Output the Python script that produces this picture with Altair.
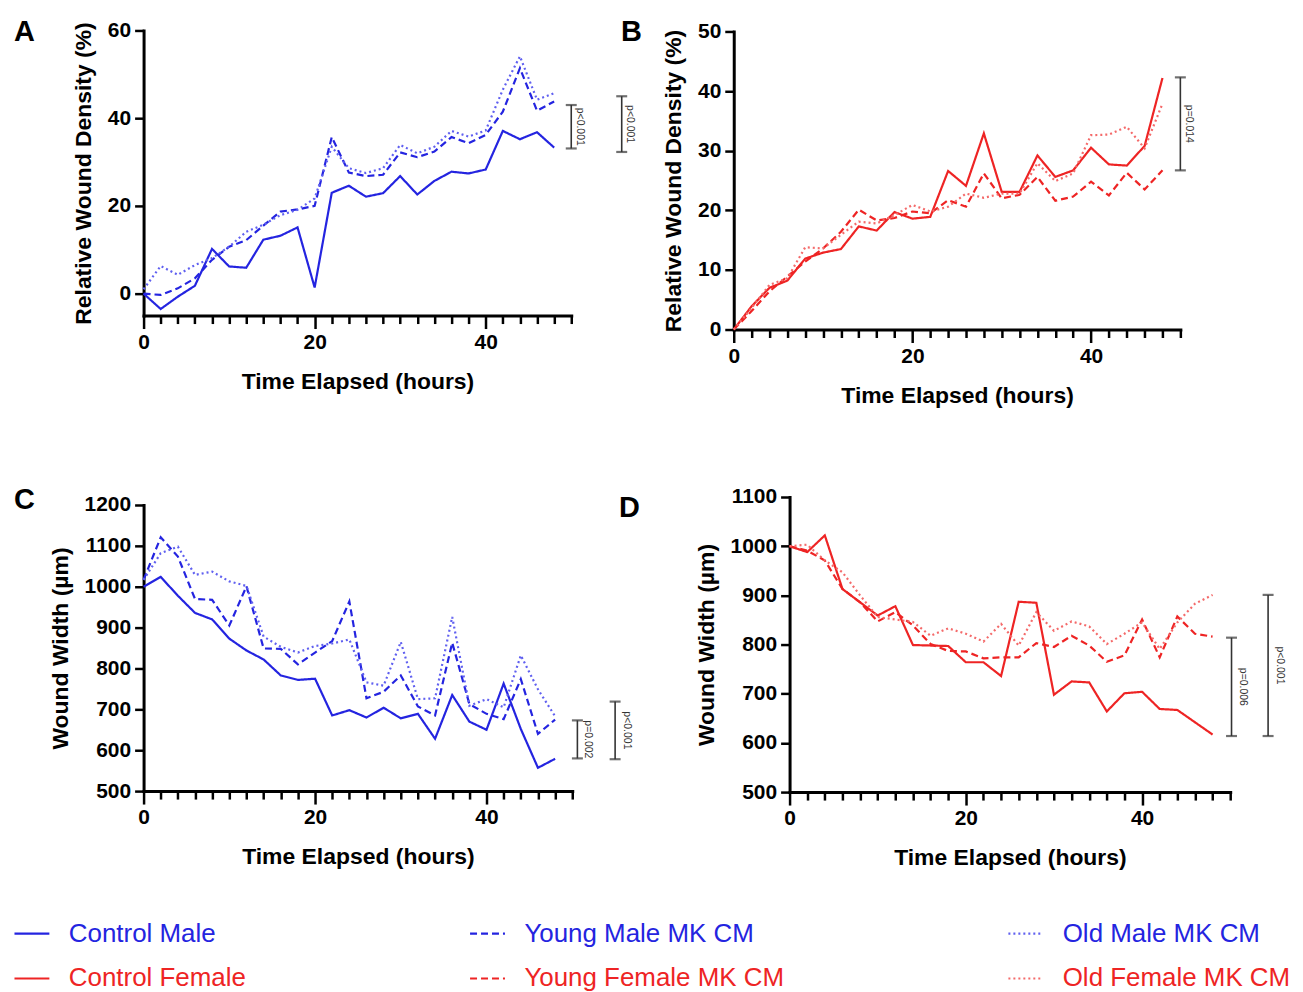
import altair as alt
import pandas as pd

# ---------------- data ----------------
hours = list(range(0, 50, 2))  # 0..48 h

# legend order (column-major in a 3-column legend): Control, Young, Old
series_names = ["Control Male", "Control Female", "Young Male MK CM",
                "Young Female MK CM", "Old Male MK CM", "Old Female MK CM"]

# Panel A - Relative wound density (%), male
a_control_male = [0, -3.5, -0.7, 1.8, 10.2, 6.2, 5.9, 12.3, 13.2, 15.1, 1.4, 23.0, 24.6,
                  22.1, 22.9, 26.8, 22.6, 25.7, 27.8, 27.4, 28.3, 37.1, 35.2, 36.8, 33.3]
a_young_male = [0, -0.3, 1.2, 3.5, 7.7, 10.7, 12.2, 15.5, 18.7, 19.2, 20.0, 35.7, 27.6,
                26.8, 27.1, 32.2, 31.1, 32.4, 35.7, 34.3, 36.2, 41.5, 51.4, 41.7, 43.8]
a_old_male = [1.0, 6.3, 4.3, 6.5, 8.1, 10.7, 14.1, 15.7, 17.9, 19.1, 21.7, 33.5, 28.6,
              27.5, 28.6, 33.9, 32.0, 33.5, 37.1, 35.8, 37.2, 46.5, 54.1, 44.2, 45.7]

# Panel B - Relative wound density (%), female
b_control_female = [0, 3.9, 7.0, 8.2, 11.9, 12.9, 13.5, 17.3, 16.6, 19.7, 18.6, 18.9, 26.6,
                    24.1, 32.9, 23.1, 23.1, 29.2, 25.6, 26.7, 30.5, 27.7, 27.5, 30.8, 42.2]
b_young_female = [0, 3.1, 6.4, 8.9, 11.4, 13.6, 16.4, 20.1, 18.3, 18.7, 19.8, 19.5, 21.7,
                  20.6, 26.2, 22.0, 22.6, 25.6, 21.6, 22.3, 24.8, 22.5, 26.3, 23.5, 26.7]
b_old_female = [0, 3.6, 7.5, 8.6, 13.8, 13.6, 15.9, 18.1, 17.8, 19.2, 20.9, 19.8, 20.6,
                22.8, 22.1, 22.8, 22.8, 27.9, 24.9, 26.2, 32.6, 32.7, 34.0, 30.4, 37.9]

# Panel C - Wound width (um), male
c_control_male = [1000, 1024, 978, 936, 920, 873, 844, 822, 783, 772, 775, 685, 698,
                  680, 704, 678, 689, 628, 735, 670, 650, 763, 652, 557, 579]
c_young_male = [1017, 1121, 1074, 970, 968, 905, 1001, 849, 848, 810, 839, 867, 964,
                727, 743, 783, 707, 685, 863, 713, 689, 676, 774, 640, 675]
c_old_male = [1017, 1082, 1098, 1029, 1037, 1013, 1002, 878, 853, 839, 855, 861, 871,
              766, 758, 865, 725, 727, 926, 709, 725, 705, 832, 749, 683]

# Panel D - Wound width (um), female
d_control_female = [1000, 988, 1022, 913, 886, 859, 878, 799, 798, 797, 764, 764, 736,
                    887, 885, 698, 725, 723, 664, 701, 704, 669, 667, 642, 617]
d_young_female = [1000, 991, 971, 913, 886, 847, 866, 839, 801, 787, 786, 772, 774,
                  774, 803, 795, 818, 798, 765, 778, 851, 774, 857, 822, 816]
d_old_female = [1000, 1003, 971, 947, 900, 856, 851, 846, 818, 833, 822, 806, 842,
                798, 866, 828, 847, 837, 801, 822, 845, 791, 845, 883, 901]

# significance brackets: (label, top value, bottom value)
a_brackets = [("p<0.001", 43.0, 33.1), ("p<0.001", 45.0, 32.3)]
b_brackets = [("p=0.014", 42.3, 26.7)]
c_brackets = [("p=0.002", 673, 580), ("p<0.001", 719, 578)]
d_brackets = [("p=0.006", 814, 614), ("p<0.001", 901, 614)]

# ---------------- styling ----------------
FONT = "Liberation Sans"
BLUE = "#2424e0"
BLUE_L = "#6060f0"
RED = "#ee2424"
RED_L = "#f46a6a"
series_colors = [BLUE, RED, BLUE, RED, BLUE_L, RED_L]
series_dashes = [[1, 0], [1, 0], [7, 4], [7, 4], [2, 3], [2, 3]]


def long_df(pairs):
    rows = []
    for name, vals in pairs:
        for h, v in zip(hours, vals):
            rows.append({"hours": h, "value": v, "series": name})
    return pd.DataFrame(rows)


legend_kw = dict(
    title=None,
    labelColor=alt.ExprRef("indexof(datum.label, 'Female') >= 0 ? '%s' : '%s'" % (RED, BLUE)),
)

major_tick = {"condition": {"test": "datum.value % 20 === 0", "value": 13}, "value": 8}


def make_panel(df, letter, letter_x, letter_y, ytitle, ydomain, yticks,
               width, height, brackets, bracket_x, text_x,
               xrange=None, yrange=None, yaxis_offset=0, x_title_x=None):
    xs = dict(domain=[0, 50], nice=False, zero=False)
    if xrange is not None:
        xs["range"] = xrange
    ys = dict(domain=ydomain, nice=False, zero=False)
    if yrange is not None:
        ys["range"] = yrange
    xscale = alt.Scale(**xs)
    yscale = alt.Scale(**ys)
    xaxis_kw = dict(values=list(range(0, 51, 2)),
                    labelExpr="datum.value % 20 === 0 ? datum.label : ''",
                    title="Time Elapsed (hours)", labelFlush=False, labelOverlap=False,
                    tickSize=major_tick, labelPadding=3)
    if x_title_x is not None:
        xaxis_kw["titleX"] = x_title_x
    xaxis = alt.Axis(**xaxis_kw)
    yaxis = alt.Axis(values=yticks, title=ytitle, format="d", offset=yaxis_offset,
                     labelOverlap=False)

    lines = alt.Chart(df).mark_line(strokeWidth=2.2).encode(
        x=alt.X("hours:Q", scale=xscale, axis=xaxis),
        y=alt.Y("value:Q", scale=yscale, axis=yaxis),
        color=alt.Color("series:N",
                        scale=alt.Scale(domain=series_names, range=series_colors),
                        legend=alt.Legend(**legend_kw)),
        strokeDash=alt.StrokeDash("series:N",
                                  scale=alt.Scale(domain=series_names, range=series_dashes),
                                  legend=alt.Legend(**legend_kw)),
    )
    layers = [lines]
    one = pd.DataFrame({"k": [0]})

    def xd(v):
        return alt.XDatum(v, scale=xscale, axis=xaxis)

    def yd(v):
        return alt.YDatum(v, scale=yscale, axis=yaxis)

    for (label, top, bottom), xb, xt in zip(brackets, bracket_x, text_x):
        layers.append(alt.Chart(one).mark_rule(color="#333333", strokeWidth=1.6).encode(
            x=xd(xb), y=yd(top), y2=alt.Y2Datum(bottom)))
        for v in (top, bottom):
            layers.append(alt.Chart(one).mark_tick(color="#333333", orient="horizontal",
                                                   size=11, thickness=2.2).encode(
                x=xd(xb), y=yd(v)))
        layers.append(alt.Chart(one).mark_text(angle=90, fontSize=10.5, font=FONT,
                                               color="#333333", align="center",
                                               baseline="middle").encode(
            x=xd(xt), y=yd((top + bottom) / 2.0), text=alt.value(label)))
    # panel letter
    layers.append(alt.Chart(one).mark_text(fontSize=29, fontWeight="bold", font=FONT,
                                           color="black", align="left",
                                           baseline="alphabetic").encode(
        x=alt.value(letter_x), y=alt.value(letter_y), text=alt.value(letter)))
    return alt.layer(*layers).properties(width=width, height=height)


dfA = long_df([("Control Male", a_control_male), ("Young Male MK CM", a_young_male),
               ("Old Male MK CM", a_old_male)])
dfB = long_df([("Control Female", b_control_female), ("Young Female MK CM", b_young_female),
               ("Old Female MK CM", b_old_female)])
dfC = long_df([("Control Male", c_control_male), ("Young Male MK CM", c_young_male),
               ("Old Male MK CM", c_old_male)])
dfD = long_df([("Control Female", d_control_female), ("Young Female MK CM", d_young_female),
               ("Old Female MK CM", d_old_female)])

pA = make_panel(dfA, "A", -130, 11, "Relative Wound Density (%)", [-5, 60], [0, 20, 40, 60],
                429, 286, a_brackets, [50.0, 55.9], [51.0, 56.9])
pB = make_panel(dfB, "B", -113, 11, "Relative Wound Density (%)", [0, 50],
                [0, 10, 20, 30, 40, 50], 448, 300, b_brackets, [50.0], [51.0],
                yrange=[300, 1])
pC = make_panel(dfC, "C", -130, 12, "Wound Width (µm)", [500, 1200],
                list(range(500, 1201, 100)), 430, 295, c_brackets, [50.6, 55.0], [51.8, 56.4],
                yrange=[295, 8])
pD = make_panel(dfD, "D", -115, 20, "Wound Width (µm)", [500, 1100],
                list(range(500, 1101, 100)), 498, 296, d_brackets, [50.15, 54.3], [51.4, 55.6],
                xrange=[56, 498], yaxis_offset=-56, x_title_x=277)

chart = alt.concat(
    pA, pB, pC, pD, columns=2,
    spacing={"row": 168, "column": 162},
    bounds="flush",
    align={"row": "each", "column": "each"},
).properties(
    padding={"left": 5, "top": 9, "right": 4, "bottom": 0},
).configure_view(stroke=None).configure_axis(
    domainColor="black", domainWidth=3, domainCap="square",
    tickColor="black", tickWidth=2.5, tickSize=9,
    labelFont=FONT, labelFontSize=21, labelFontWeight="bold", labelColor="black",
    labelPadding=4, grid=False,
    titleFont=FONT, titleFontSize=23, titleFontWeight="bold", titleColor="black",
).configure_axisY(titlePadding=12).configure_axisX(titlePadding=18).configure_legend(
    orient="none", legendX=-131, legendY=887, columns=3, columnPadding=220,
    rowPadding=13, labelFontSize=26, labelFont=FONT, labelLimit=500,
    symbolType="stroke", symbolSize=1225, symbolStrokeWidth=2.2, labelOffset=18,
)

chart.save("out.html", embed_options={"renderer": "svg", "actions": False})
